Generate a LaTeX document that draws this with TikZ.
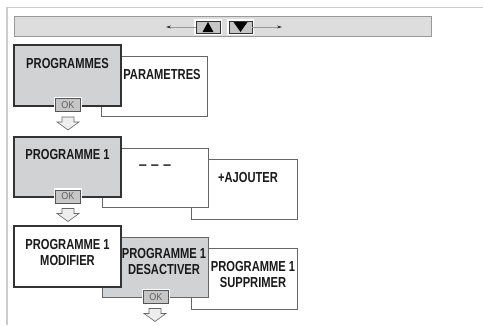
\documentclass[tikz,border=0pt]{standalone}
\usepackage{fontspec}
\setmainfont{Liberation Sans}
\newfontfamily\condfont[FakeStretch=0.77]{Liberation Sans}
\newfontfamily\okfont[FakeStretch=0.9]{Liberation Sans}
\usetikzlibrary{arrows.meta,calc}
\definecolor{framegray}{HTML}{CCCCCC}
\definecolor{barfill}{HTML}{DDDDDD}
\definecolor{barline}{HTML}{999999}
\definecolor{boxfill}{HTML}{D1D2D4}
\definecolor{darkline}{HTML}{333333}
\definecolor{thinline}{HTML}{666666}
\definecolor{btnfill}{HTML}{C6C6C6}
\definecolor{okline}{HTML}{555555}
\definecolor{oktext}{HTML}{606060}
\definecolor{arrowfill}{HTML}{EEEEEE}
\definecolor{textcol}{HTML}{1A1A1A}
\tikzset{
  panel/.style={anchor=north west, inner sep=0pt, outer sep=0pt},
  activebox/.style={panel, draw=darkline, line width=1.1pt, fill=boxfill},
  frontbox/.style={panel, draw=darkline, line width=1.1pt, fill=white},
  backbox/.style={panel, draw=thinline, line width=0.7pt, fill=white},
  grayback/.style={panel, draw=thinline, line width=0.7pt, fill=boxfill},
  label/.style={inner sep=0pt, text=textcol, font=\condfont\bfseries\fontsize{14.5}{16}\selectfont, align=center},
  okbtn/.style={inner sep=0pt, minimum width=25pt, minimum height=13pt, fill=btnfill, draw=okline, line width=0.6pt,
     preaction={draw=white, line width=3.5pt}, text=oktext, font=\okfont\fontsize{10}{10}\selectfont},
  navbtn/.style={inner sep=0pt, minimum height=12pt, fill=btnfill, draw=darkline, line width=0.6pt,
     preaction={draw=white, line width=4pt}},
  navarrow/.style={draw=barline, line width=0.6pt, -{Stealth[length=5pt,width=3pt,color=darkline]}},
  downarrow/.pic={\draw[fill=arrowfill, draw=thinline, line width=0.6pt]
     (-6,0) -- (6,0) -- (6,5) -- (11,5) -- (0,13) -- (-11,5) -- (-6,5) -- cycle;}
}
\begin{document}
\begin{tikzpicture}[x=1pt,y=-1pt]
\useasboundingbox (0,0) rectangle (483,325);
% outer frame
\draw[framegray, line width=1.2pt] (7,325) -- (7,7.5) -- (483,7.5);
% top bar
\node[panel, draw=barline, line width=0.6pt, fill=barfill, minimum width=417pt, minimum height=20pt] (bar) at (14,16) {};
\node[navbtn, minimum width=24pt] (up) at (208,27) {};
\node[navbtn, minimum width=23pt] (down) at (240.5,27) {};
\fill[black] ($(up.center)+(-5.5,5)$) -- ($(up.center)+(5.5,5)$) -- ($(up.center)+(0,-5)$) -- cycle;
\fill[black] ($(down.center)+(-7,-5)$) -- ($(down.center)+(7,-5)$) -- ($(down.center)+(0,5)$) -- cycle;
\coordinate (leftend) at (166,27);
\coordinate (rightend) at (282,27);
\draw[navarrow] (up.west) -- (leftend);
\draw[navarrow] (down.east) -- (rightend);
% row 1
\node[backbox, minimum width=106pt, minimum height=60pt] (params) at (101,56) {};
\node[activebox, minimum width=107pt, minimum height=61pt] (progs) at (14,45) {};
\node[label, anchor=base] (tprogs) at (67.5,68.5) {PROGRAMMES};
\node[label, anchor=base] (tparams) at (162,79) {PARAMETRES};
\node[okbtn] (ok1) at (67.8,105) {OK};
\pic at (68,117) {downarrow};
% row 2
\node[backbox, minimum width=106pt, minimum height=60pt] (ajouter) at (191,159) {};
\node[backbox, minimum width=106pt, minimum height=59pt] (dashes) at (102,148) {};
\node[activebox, minimum width=107pt, minimum height=60pt] (prog1) at (14,137) {};
\node[label, anchor=base] (tprog1) at (67.5,159) {PROGRAMME 1};
\node[inner sep=0pt, text=textcol, font=\bfseries\fontsize{14.5}{16}\selectfont, anchor=base] (tdash) at (155,169) {– – –};
\node[label, anchor=base] (tajouter) at (248,182) {+AJOUTER};
\node[okbtn] (ok2) at (67.8,196.3) {OK};
\pic at (68,208.5) {downarrow};
% row 3
\node[backbox, minimum width=106pt, minimum height=61pt] (suppr) at (191,248) {};
\node[grayback, minimum width=106pt, minimum height=60pt] (desact) at (102,237) {};
\node[frontbox, minimum width=107pt, minimum height=61pt] (modif) at (14,226) {};
\node[label, anchor=north] (tmodif) at (67.5,239.5) {PROGRAMME 1\\MODIFIER};
\node[label, anchor=north] (tdesact) at (164,248) {PROGRAMME 1\\DESACTIVER};
\node[label, anchor=north] (tsuppr) at (253,261.5) {PROGRAMME 1\\SUPPRIMER};
\node[okbtn] (ok3) at (155.8,297) {OK};
\pic at (155,308.5) {downarrow};
\end{tikzpicture}
\end{document}
